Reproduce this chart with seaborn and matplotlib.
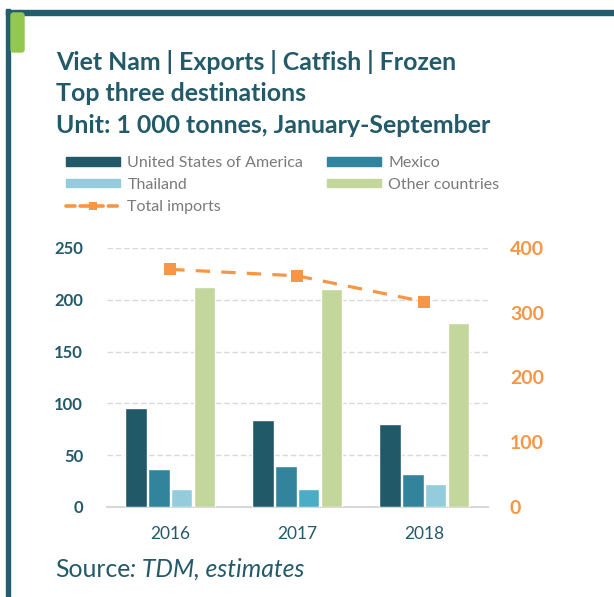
import matplotlib
matplotlib.use("Agg")
import matplotlib.pyplot as plt
import seaborn as sns
import pandas as pd
from matplotlib.patches import Rectangle, FancyBboxPatch
from matplotlib.lines import Line2D

# data (1 000 tonnes)
years = ["2016", "2017", "2018"]
usa = [96, 84, 80]
mexico = [37, 40, 32]
thailand = [17, 17, 22]
other = [212, 210, 178]
total_imports = [367, 357, 317]

series_names = ["United States of America", "Mexico", "Thailand", "Other countries"]
colors = ["#215968", "#31849B", "#93CDDD", "#C3D69B"]
orange = "#F79646"
teal = "#235A6A"

df = pd.DataFrame({
    "year": years * 4,
    "country": [n for n in series_names for _ in years],
    "value": usa + mexico + thailand + other,
})
tot = pd.DataFrame({"year": years, "total": total_imports})

sns.set_style("white")
plt.rcParams["font.family"] = ["Lato", "DejaVu Sans"]

fig = plt.figure(figsize=(6.14, 5.97), dpi=100)
ax = fig.add_axes([0.1738, 0.1508, 0.6205, 0.4338])

sns.barplot(data=df, x="year", y="value", hue="country", palette=colors, saturation=1,
            width=0.72, gap=0.06, ax=ax, legend=False, zorder=3)
# the 2017 Thailand bar is a brighter blue in the source chart
ax.patches[2 * 3 + 1].set_facecolor("#4BACC6")
ax.set_ylim(0, 250)
ax.set_xlim(-0.5, 2.5)
ax.set_yticks([0, 50, 100, 150, 200, 250])
ax.yaxis.grid(True, color="#D9D9D9", linestyle=(0, (4, 2)), linewidth=1)
ax.set_axisbelow(True)
for s in ["top", "left", "right"]:
    ax.spines[s].set_visible(False)
ax.spines["bottom"].set_color("#D9D9D9")
ax.spines["bottom"].set_linewidth(1.5)
ax.tick_params(axis="both", length=0)
ax.tick_params(axis="y", labelsize=12, labelcolor=teal, pad=17)
ax.tick_params(axis="x", labelsize=12.5, labelcolor=teal, pad=14)
for lab in ax.get_yticklabels():
    lab.set_fontweight("bold")
ax.set_xlabel("")
ax.set_ylabel("")

ax2 = ax.twinx()
sns.lineplot(data=tot, x="year", y="total", ax=ax2, color=orange, linewidth=2.3,
             marker="s", markersize=8, markeredgewidth=0, dashes=False, zorder=5)
ax2.lines[0].set_linestyle((0, (4.5, 3.5)))
ax2.set_ylim(0, 400)
ax2.set_yticks([0, 100, 200, 300, 400])
for s in ["top", "left", "right", "bottom"]:
    ax2.spines[s].set_visible(False)
ax2.tick_params(axis="y", length=0, labelsize=14, labelcolor=orange, pad=16)
for lab in ax2.get_yticklabels():
    lab.set_fontweight("bold")
ax2.set_ylabel("")
ax2.grid(False)

# frame and tab
fig.patches.append(Rectangle((6 / 614, 0), 4 / 614, 1 - 9 / 597, transform=fig.transFigure,
                             color="#235E6E", zorder=0))
fig.patches.append(Rectangle((6 / 614, 1 - 15 / 597), 1, 5 / 597, transform=fig.transFigure,
                             color="#235E6E", zorder=0))
fig.patches.append(FancyBboxPatch((11 / 614, 1 - 52 / 597), 13 / 614, 39 / 597,
                                  boxstyle="round,pad=0,rounding_size=0.004",
                                  transform=fig.transFigure, color="#92C84F", zorder=1))

# titles
title_lines = ["Viet Nam | Exports | Catfish | Frozen", "Top three destinations",
               "Unit: 1 000 tonnes, January-September"]
for i, t in enumerate(title_lines):
    fig.text(56 / 614, 1 - (69.5 + 31.8 * i) / 597, t, fontsize=17.9, fontweight="bold",
             color=teal, va="baseline", ha="left")

# legend
handles = [Rectangle((0, 0), 1, 1, color=c) for c in colors]
line_h = Line2D([], [], color=orange, linewidth=2.6, linestyle=(0, (2.5, 1.4)),
                solid_capstyle="round", dash_capstyle="round",
                marker="s", markersize=6, markeredgewidth=0)
order_h = [handles[0], handles[2], line_h, handles[1], handles[3]]
order_l = [series_names[0], series_names[2], "Total imports", series_names[1], series_names[3]]
fig.legend(order_h, order_l, ncol=2, loc="upper left", bbox_to_anchor=(66 / 614, 1 - 156 / 597),
           frameon=False, fontsize=11.5, labelcolor="#7A7A7A", handlelength=3.4,
           handleheight=0.45, handletextpad=0.44, columnspacing=1.5, labelspacing=0.49,
           borderaxespad=0, borderpad=0)

# source
renderer = fig.canvas.get_renderer()
src = fig.text(55 / 614, 1 - 577 / 597, "Source", fontsize=17.8, color=teal, va="baseline")
bb = src.get_window_extent(renderer=renderer)
fig.text(bb.x1 / fig.bbox.width, 1 - 577 / 597, ": TDM, estimates", fontsize=17.8,
         color=teal, style="italic", va="baseline")

fig.savefig("out.png", dpi=100)
